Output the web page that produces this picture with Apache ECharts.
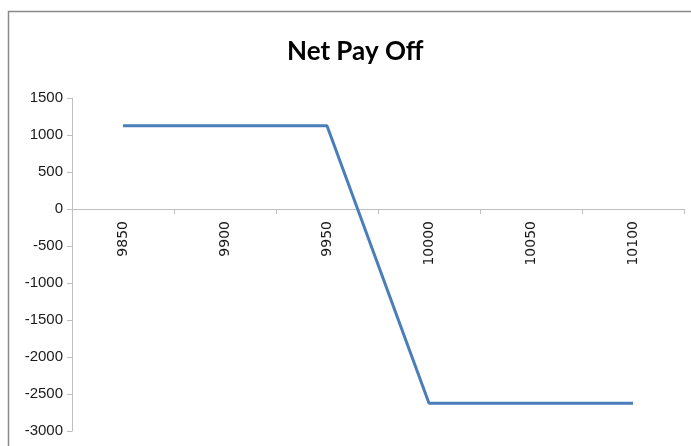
<!DOCTYPE html>
<html>
<head>
<meta charset="utf-8">
<script src="https://cdn.jsdelivr.net/npm/echarts@6/dist/echarts.min.js"></script>
<style>
html,body{margin:0;padding:0;background:#fff;}
#chart{width:691px;height:446px;}
</style>
</head>
<body>
<div id="chart"></div>
<script>
const categories = ['9850', '9900', '9950', '10000', '10050', '10100'];
const netPayOff = [1125, 1125, 1125, -2625, -2625, -2625];
const yMin = -3000, yMax = 1500, yStep = 500;

const gridTop = 98, gridBottom = 15, H = 446;
const plotH = H - gridTop - gridBottom;
const zeroFromBottom = plotH * (0 - yMin) / (yMax - yMin);

const chart = echarts.init(document.getElementById('chart'), null, {renderer: 'canvas'});
chart.setOption({
  animation: false,
  backgroundColor: '#ffffff',
  title: {
    text: 'Net Pay Off',
    left: 282,
    top: 34,
    textStyle: {
      fontFamily: 'Lato, sans-serif',
      fontWeight: 'bold',
      fontSize: 26,
      color: '#000000'
    }
  },
  graphic: [{
    type: 'rect',
    shape: {x: 8.5, y: 11.5, width: 720, height: 500},
    style: {fill: 'none', stroke: '#8a8a8a', lineWidth: 1.5},
    silent: true
  }],
  grid: {left: 72, right: 7, top: gridTop, bottom: gridBottom, containLabel: false, outerBoundsMode: 'none'},
  xAxis: {
    type: 'category',
    data: categories,
    boundaryGap: true,
    position: 'bottom',
    offset: -zeroFromBottom,
    axisLine: {onZero: false, lineStyle: {color: '#bfbfbf', width: 1}},
    axisTick: {show: true, length: 5, inside: false, lineStyle: {color: '#bfbfbf'}},
    axisLabel: {
      rotate: 90,
      margin: 12,
      fontFamily: '"DejaVu Sans", sans-serif',
      fontSize: 14,
      color: '#1a1a1a'
    },
    splitLine: {show: false}
  },
  yAxis: {
    type: 'value',
    min: yMin,
    max: yMax,
    interval: yStep,
    axisLine: {show: true, lineStyle: {color: '#bfbfbf', width: 1}},
    axisTick: {show: true, length: 5, lineStyle: {color: '#bfbfbf'}},
    axisLabel: {
      margin: 9,
      formatter: function (v) { return String(v); },
      fontFamily: '"Liberation Sans", Arial, sans-serif',
      fontSize: 15,
      color: '#1a1a1a'
    },
    splitLine: {show: false}
  },
  series: [{
    type: 'line',
    data: netPayOff,
    symbol: 'none',
    lineStyle: {color: '#4a7ebb', width: 3},
    itemStyle: {color: '#4a7ebb'}
  }]
});
</script>
</body>
</html>
